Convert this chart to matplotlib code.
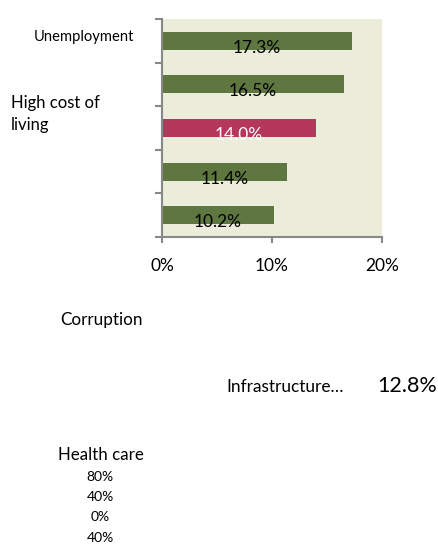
import matplotlib.pyplot as plt
from matplotlib.ticker import FixedLocator, PercentFormatter

plt.rcParams['font.family'] = ['Lato', 'DejaVu Sans']

# data
values = [17.3, 16.5, 14.0, 11.4, 10.2]
highlight = [False, False, True, False, False]
x_ticks = [0, 10, 20]
loose_labels = ['Unemployment', 'High cost of\nliving', 'Corruption',
                'Infrastructure…', 'Health care']
loose_value = '12.8%'
stray_ticks = ['80%', '40%', '0%', '40%']

W, H = 439, 546
fig = plt.figure(figsize=(W / 100, H / 100), dpi=100)
ax = fig.add_axes([162 / W, 1 - 237 / H, 220 / W, 218 / H])
ax.set_facecolor('#EBEDDA')

green, pink = '#5E7640', '#B5375C'
ypos = list(range(len(values)))
colors = [pink if h else green for h in highlight]
ax.barh(ypos, values, height=0.41, color=colors, zorder=2)
for y, v, h in zip(ypos, values, highlight):
    ax.annotate(f'{v:.1f}%', (v / 2, y), xytext=(0, -5), textcoords='offset points',
                ha='center', va='center', fontsize=12.5,
                color='white' if h else 'black', zorder=3)

ax.set_xlim(0, 20)
ax.set_ylim(len(values) - 0.5, -0.5)
ax.xaxis.set_major_locator(FixedLocator(x_ticks))
ax.xaxis.set_major_formatter(PercentFormatter(decimals=0))
ax.yaxis.set_major_locator(FixedLocator([i - 0.5 for i in range(len(values) + 1)]))
ax.set_yticklabels([])
ax.tick_params(axis='x', length=4, width=1.5, color='#888888', labelsize=12.5, pad=11)
ax.tick_params(axis='y', length=5, width=1.5, color='#888888')
for s in ['top', 'right']:
    ax.spines[s].set_visible(False)
for s in ['left', 'bottom']:
    ax.spines[s].set_color('#888888')
    ax.spines[s].set_linewidth(1.5)


def px(x, y, s, **kw):
    fig.text(x / W, 1 - y / H, s, **kw)


px(84.5, 37, loose_labels[0], ha='center', va='center', fontsize=10.6)
px(11, 114, loose_labels[1], ha='left', va='center', fontsize=12, linespacing=1.5)
px(102, 320, loose_labels[2], ha='center', va='center', fontsize=12.3)
px(285, 387, loose_labels[3], ha='center', va='center', fontsize=12.4)
px(407, 386, loose_value, ha='center', va='center', fontsize=15.5)
px(101, 455, loose_labels[4], ha='center', va='center', fontsize=12.2)
for i, t in enumerate(stray_ticks):
    px(100, 477 + 20.2 * i, t, ha='center', va='center', fontsize=10)

fig.savefig('out.png', dpi=100)
